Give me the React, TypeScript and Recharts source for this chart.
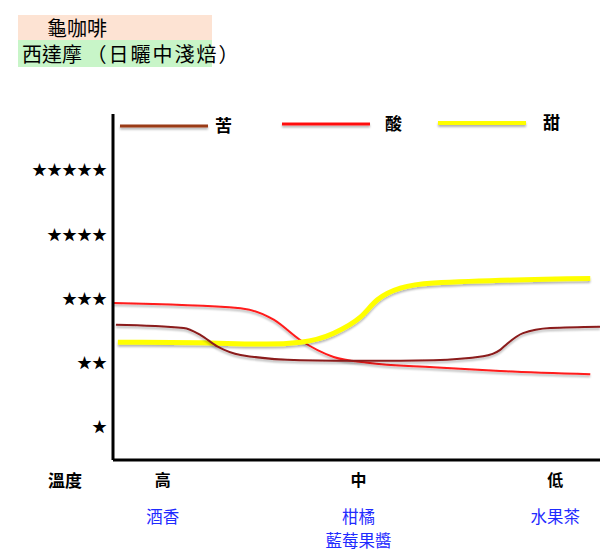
import { Line, LineChart, XAxis, YAxis } from "recharts";

// x runs 0..100 across the plot (left axis -> right edge); y is star level
const bitterX = [0.6, 14.5, 18, 21.5, 26.2, 38.5, 52.3, 65.8, 76, 79.5, 81, 84.2, 89.8, 100];
const bitterY = [2.59, 2.54, 2.43, 2.25, 2.12, 2.04, 2.03, 2.04, 2.1, 2.2, 2.3, 2.46, 2.54, 2.56];

const sourX = [0, 26.2, 33, 38.5, 45.3, 52.3, 65.8, 79.5, 98];
const sourY = [2.93, 2.85, 2.67, 2.35, 2.09, 2.0, 1.93, 1.87, 1.82];

const sweetX = [1, 18, 31.5, 38.5, 45.3, 50.8, 54.3, 59, 65.8, 98];
const sweetY = [2.32, 2.31, 2.29, 2.32, 2.46, 2.71, 2.98, 3.16, 3.24, 3.31];

const starTicks = [1, 2, 3, 4, 5];
const tempTicks = [10.2, 50.4, 90.8];
const tempLabels = ["高", "中", "低"];
const flavourLabels = [["酒香"], ["柑橘", "藍莓果醬"], ["水果茶"]];

const legendItems = [
  { name: "苦", color: "#9a3a12", width: 3, x: 120, y: 126, labelX: 215 },
  { name: "酸", color: "#ff1010", width: 3, x: 282, y: 124, labelX: 385 },
  { name: "甜", color: "#ffff00", width: 4, x: 438, y: 123, labelX: 543 },
];

const toPoints = (xs: number[], ys: number[]) => xs.map((x, i) => ({ x, v: ys[i] }));
const bitter = toPoints(bitterX, bitterY);
const sour = toPoints(sourX, sourY);
const sweet = toPoints(sweetX, sweetY);

const cjk = '"Noto Sans CJK TC", "Noto Sans CJK SC", sans-serif';

function TempTick({ x, y, payload, index }: any) {
  const i = index ?? tempTicks.indexOf(payload.value);
  return (
    <g>
      <text
        x={x}
        y={y + 18}
        textAnchor="middle"
        fontFamily={cjk}
        fontWeight="bold"
        fontSize={16}
        fill="#000"
      >
        {tempLabels[i]}
      </text>
      {(flavourLabels[i] || []).map((t, k) => (
        <text
          key={t}
          x={x}
          y={y + 55 + k * 24}
          textAnchor="middle"
          fontFamily={cjk}
          fontSize={16.5}
          fill="#1f2bff"
        >
          {t}
        </text>
      ))}
    </g>
  );
}

function Legend() {
  return (
    <g>
      {legendItems.map((it) => (
        <g key={it.name}>
          <line
            x1={it.x}
            x2={it.x + 88}
            y1={it.y}
            y2={it.y}
            stroke={it.color}
            strokeWidth={it.width}
            filter="url(#shadow)"
          />
          <text
            x={it.labelX}
            y={it.y + 6}
            fontFamily={cjk}
            fontWeight="bold"
            fontSize={17}
            fill="#000"
          >
            {it.name}
          </text>
        </g>
      ))}
    </g>
  );
}

export default function App() {
  return (
    <div style={{ position: "absolute", left: 0, top: 0, width: 600, height: 560, background: "#fff" }}>
      <div
        style={{
          position: "absolute",
          left: 18,
          top: 15,
          width: 194,
          height: 25,
          background: "#fde3d3",
          fontFamily: cjk,
          fontSize: 20,
          lineHeight: "25px",
          paddingLeft: 29,
          boxSizing: "border-box",
          whiteSpace: "nowrap",
        }}
      >
        龜咖啡
      </div>
      <div
        style={{
          position: "absolute",
          left: 18,
          top: 40,
          width: 194,
          height: 27,
          background: "#c8f5c8",
          fontFamily: cjk,
          fontSize: 20,
          lineHeight: "27px",
          paddingLeft: 4,
          boxSizing: "border-box",
          whiteSpace: "nowrap",
          overflow: "visible",
        }}
      >
        西達摩 <span style={{ letterSpacing: 2 }}>（日曬中淺焙）</span>
      </div>
      <div
        style={{
          position: "absolute",
          left: 48,
          top: 466,
          fontFamily: cjk,
          fontWeight: "bold",
          fontSize: 17,
          lineHeight: "28px",
        }}
      >
        溫度
      </div>
      <LineChart
        width={600}
        height={560}
        margin={{ top: 114, right: 0, bottom: 0, left: 0 }}
        style={{ position: "absolute", left: 0, top: 0 }}
      >
        <defs>
          <filter id="shadow" filterUnits="userSpaceOnUse" x="0" y="0" width="600" height="560">
            <feGaussianBlur in="SourceAlpha" stdDeviation="0.8" />
            <feOffset dx="0" dy="2" result="b" />
            <feComponentTransfer>
              <feFuncA type="linear" slope="0.3" />
            </feComponentTransfer>
            <feMerge>
              <feMergeNode />
              <feMergeNode in="SourceGraphic" />
            </feMerge>
          </filter>
        </defs>
        <XAxis
          dataKey="x"
          type="number"
          domain={[0, 100]}
          ticks={tempTicks}
          height={100}
          axisLine={{ stroke: "#000", strokeWidth: 3 }}
          tickLine={false}
          tick={<TempTick />}
          interval={0}
          allowDuplicatedCategory={false}
        />
        <YAxis
          dataKey="v"
          type="number"
          domain={[0.486, 5.872]}
          ticks={starTicks}
          width={113}
          tickSize={4}
          tickMargin={2}
          tickLine={false}
          axisLine={{ stroke: "#000", strokeWidth: 3 }}
          tickFormatter={(v: number) => "★".repeat(v)}
          tick={{ fill: "#000", fontSize: 15, fontFamily: cjk }}
        />
        <Line
          data={sour}
          dataKey="v"
          type="monotone"
          stroke="#ff1a1a"
          strokeWidth={2}
          dot={false}
          filter="url(#shadow)"
          isAnimationActive={false}
        />
        <Line
          data={sweet}
          dataKey="v"
          type="monotone"
          stroke="#ffff00"
          strokeWidth={5}
          dot={false}
          filter="url(#shadow)"
          isAnimationActive={false}
        />
        <Line
          data={bitter}
          dataKey="v"
          type="monotone"
          stroke="#8a1a1a"
          strokeWidth={2}
          dot={false}
          filter="url(#shadow)"
          isAnimationActive={false}
        />
        <Legend />
      </LineChart>
    </div>
  );
}
